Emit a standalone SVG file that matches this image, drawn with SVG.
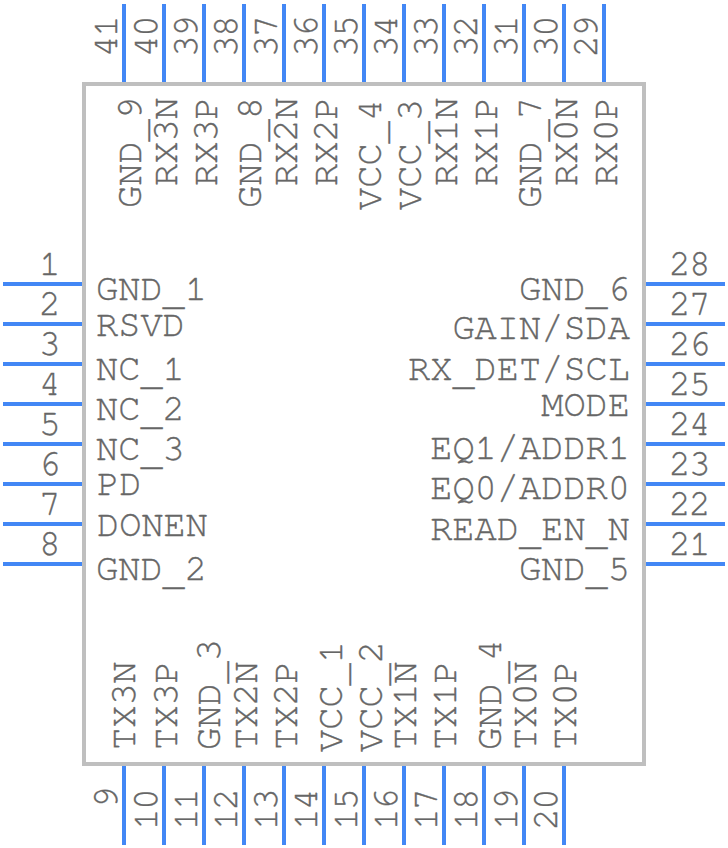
<svg xmlns="http://www.w3.org/2000/svg" width="728" height="848" viewBox="0 0 728 848">
<style>
text{font-family:"FreeMono","Liberation Mono",monospace;fill:#666;stroke:#666;stroke-width:.35;}
.l{font-size:37px;}
.n{font-size:36px;letter-spacing:-1.6px;}
.e{text-anchor:end;}
.m{text-anchor:middle;}
.p{stroke:#4287f5;stroke-width:4;fill:none;}
</style>
<rect width="728" height="848" fill="#fff"/>
<g id="body"><rect x="84" y="84" width="560" height="680" fill="none" stroke="#bfbfbf" stroke-width="4"/></g>
<g id="connectors">
<path class="p" d="M3 284H82M3 324H82M3 364H82M3 404H82M3 444H82M3 484H82M3 524H82M3 564H82"/>
<path class="p" d="M646 284H725M646 324H725M646 364H725M646 404H725M646 444H725M646 484H725M646 524H725M646 564H725"/>
<path class="p" d="M124 4V82M164 4V82M204 4V82M244 4V82M284 4V82M324 4V82M364 4V82M404 4V82M444 4V82M484 4V82M524 4V82M564 4V82M604 4V82"/>
<path class="p" d="M124 766V845M164 766V845M204 766V845M244 766V845M284 766V845M324 766V845M364 766V845M404 766V845M444 766V845M484 766V845M524 766V845M564 766V845"/>
</g>
<g id="left-pins">
<g id="pin1"><text class="n m" x="49" y="275">1</text><text class="l" x="96" y="300">GND<tspan dy="5">_</tspan><tspan dy="-5">1</tspan></text></g>
<g id="pin2"><text class="n m" x="49" y="315">2</text><text class="l" x="96" y="336">RSVD</text></g>
<g id="pin3"><text class="n m" x="49" y="355">3</text><text class="l" x="96" y="380">NC<tspan dy="5">_</tspan><tspan dy="-5">1</tspan></text></g>
<g id="pin4"><text class="n m" x="49" y="395">4</text><text class="l" x="96" y="420">NC<tspan dy="5">_</tspan><tspan dy="-5">2</tspan></text></g>
<g id="pin5"><text class="n m" x="49" y="435">5</text><text class="l" x="96" y="460">NC<tspan dy="5">_</tspan><tspan dy="-5">3</tspan></text></g>
<g id="pin6"><text class="n m" x="49" y="475">6</text><text class="l" x="97" y="495">PD</text></g>
<g id="pin7"><text class="n m" x="49" y="515">7</text><text class="l" x="97" y="536">DONEN</text></g>
<g id="pin8"><text class="n m" x="49" y="555">8</text><text class="l" x="96" y="580">GND<tspan dy="5">_</tspan><tspan dy="-5">2</tspan></text></g>
</g>
<g id="right-pins">
<g id="pin28"><text class="n m" x="689" y="275">28</text><text class="l e" x="630" y="300">GND<tspan dy="5">_</tspan><tspan dy="-5">6</tspan></text></g>
<g id="pin27"><text class="n m" x="689" y="315">27</text><text class="l e" x="630" y="339">GAIN/SDA</text></g>
<g id="pin26"><text class="n m" x="689" y="355">26</text><text class="l e" x="630" y="380">RX<tspan dy="5">_</tspan><tspan dy="-5">DET/SCL</tspan></text></g>
<g id="pin25"><text class="n m" x="689" y="395">25</text><text class="l e" x="630" y="416">MODE</text></g>
<g id="pin24"><text class="n m" x="689" y="435">24</text><text class="l e" x="630" y="459">EQ1/ADDR1</text></g>
<g id="pin23"><text class="n m" x="689" y="475">23</text><text class="l e" x="630" y="499">EQ0/ADDR0</text></g>
<g id="pin22"><text class="n m" x="689" y="515">22</text><text class="l e" x="630" y="540">READ<tspan dy="5">_</tspan><tspan dy="-5">EN</tspan><tspan dy="5">_</tspan><tspan dy="-5">N</tspan></text></g>
<g id="pin21"><text class="n m" x="689" y="555">21</text><text class="l e" x="630" y="580">GND<tspan dy="5">_</tspan><tspan dy="-5">5</tspan></text></g>
</g>
<g id="top-pins">
<g id="pin41"><text class="n" transform="translate(117 57) rotate(-90)">41</text><text class="l" transform="translate(141 208) rotate(-90)">GND<tspan dy="5">_</tspan><tspan dy="-5">9</tspan></text></g>
<g id="pin40"><text class="n" transform="translate(157 57) rotate(-90)">40</text><text class="l" transform="translate(177 186) rotate(-90)">RX3N</text></g>
<g id="pin39"><text class="n" transform="translate(197 57) rotate(-90)">39</text><text class="l" transform="translate(217 186) rotate(-90)">RX3P</text></g>
<g id="pin38"><text class="n" transform="translate(237 57) rotate(-90)">38</text><text class="l" transform="translate(261 208) rotate(-90)">GND<tspan dy="5">_</tspan><tspan dy="-5">8</tspan></text></g>
<g id="pin37"><text class="n" transform="translate(277 57) rotate(-90)">37</text><text class="l" transform="translate(297 186) rotate(-90)">RX2N</text></g>
<g id="pin36"><text class="n" transform="translate(317 57) rotate(-90)">36</text><text class="l" transform="translate(337 186) rotate(-90)">RX2P</text></g>
<g id="pin35"><text class="n" transform="translate(357 57) rotate(-90)">35</text><text class="l" transform="translate(381 210) rotate(-90)">VCC<tspan dy="5">_</tspan><tspan dy="-5">4</tspan></text></g>
<g id="pin34"><text class="n" transform="translate(397 57) rotate(-90)">34</text><text class="l" transform="translate(421 210) rotate(-90)">VCC<tspan dy="5">_</tspan><tspan dy="-5">3</tspan></text></g>
<g id="pin33"><text class="n" transform="translate(437 57) rotate(-90)">33</text><text class="l" transform="translate(457 186) rotate(-90)">RX1N</text></g>
<g id="pin32"><text class="n" transform="translate(477 57) rotate(-90)">32</text><text class="l" transform="translate(497 186) rotate(-90)">RX1P</text></g>
<g id="pin31"><text class="n" transform="translate(517 57) rotate(-90)">31</text><text class="l" transform="translate(541 208) rotate(-90)">GND<tspan dy="5">_</tspan><tspan dy="-5">7</tspan></text></g>
<g id="pin30"><text class="n" transform="translate(557 57) rotate(-90)">30</text><text class="l" transform="translate(577 186) rotate(-90)">RX0N</text></g>
<g id="pin29"><text class="n" transform="translate(597 57) rotate(-90)">29</text><text class="l" transform="translate(617 186) rotate(-90)">RX0P</text></g>
</g>
<g id="bottom-pins">
<g id="pin9"><text class="n e" transform="translate(117 788) rotate(-90)">9</text><text class="l" transform="translate(135 750) rotate(-90)">TX3N</text></g>
<g id="pin10"><text class="n" transform="translate(157 830) rotate(-90)">10</text><text class="l" transform="translate(177 750) rotate(-90)">TX3P</text></g>
<g id="pin11"><text class="n" transform="translate(197 830) rotate(-90)">11</text><text class="l" transform="translate(220 750) rotate(-90)">GND<tspan dy="5">_</tspan><tspan dy="-5">3</tspan></text></g>
<g id="pin12"><text class="n" transform="translate(237 830) rotate(-90)">12</text><text class="l" transform="translate(257 750) rotate(-90)">TX2N</text></g>
<g id="pin13"><text class="n" transform="translate(277 830) rotate(-90)">13</text><text class="l" transform="translate(297 750) rotate(-90)">TX2P</text></g>
<g id="pin14"><text class="n" transform="translate(317 830) rotate(-90)">14</text><text class="l" transform="translate(342 752) rotate(-90)">VCC<tspan dy="5">_</tspan><tspan dy="-5">1</tspan></text></g>
<g id="pin15"><text class="n" transform="translate(357 830) rotate(-90)">15</text><text class="l" transform="translate(382 752) rotate(-90)">VCC<tspan dy="5">_</tspan><tspan dy="-5">2</tspan></text></g>
<g id="pin16"><text class="n" transform="translate(397 830) rotate(-90)">16</text><text class="l" transform="translate(416 750) rotate(-90)">TX1N</text></g>
<g id="pin17"><text class="n" transform="translate(437 830) rotate(-90)">17</text><text class="l" transform="translate(456 750) rotate(-90)">TX1P</text></g>
<g id="pin18"><text class="n" transform="translate(477 830) rotate(-90)">18</text><text class="l" transform="translate(501 750) rotate(-90)">GND<tspan dy="5">_</tspan><tspan dy="-5">4</tspan></text></g>
<g id="pin19"><text class="n" transform="translate(517 830) rotate(-90)">19</text><text class="l" transform="translate(536 750) rotate(-90)">TX0N</text></g>
<g id="pin20"><text class="n" transform="translate(557 830) rotate(-90)">20</text><text class="l" transform="translate(576 750) rotate(-90)">TX0P</text></g>
</g>
</svg>
